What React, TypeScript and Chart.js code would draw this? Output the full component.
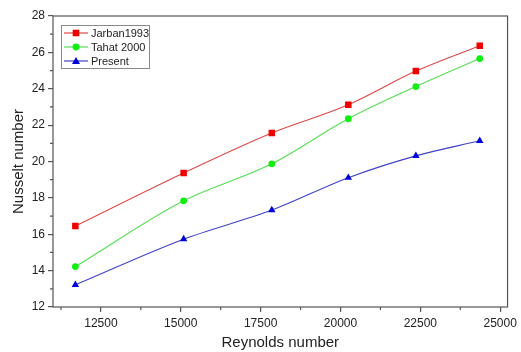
import React, { useEffect, useRef } from "react";
import { Chart, registerables } from "chart.js";

Chart.register(...registerables);

const reynolds = [11700, 15090, 17850, 20245, 22360, 24360];
const jarban = [16.45, 19.37, 21.57, 23.12, 24.97, 26.37];
const tahat = [14.22, 17.84, 19.87, 22.35, 24.12, 25.66];
const present = [13.22, 15.73, 17.33, 19.11, 20.31, 21.14];
const xMajorTicks = [12500, 15000, 17500, 20000, 22500, 25000];
const xMinorTicks = [11250, 13750, 16250, 18750, 21250, 23750];
const yMajorTicks = [12, 14, 16, 18, 20, 22, 24, 26, 28];
const yMinorTicks = [13, 15, 17, 19, 21, 23, 25, 27];

const FONT = "'Liberation Sans', Arial, sans-serif";

const framePlugin = {
  id: "frame",
  afterDraw(chart: any) {
    const { ctx, chartArea } = chart;
    const { left, right, top, bottom } = chartArea;
    const xs = chart.scales.x;
    const ys = chart.scales.y;
    ctx.save();
    ctx.strokeStyle = "#555";
    ctx.lineWidth = 1.2;
    ctx.strokeRect(left, top, right - left, bottom - top);
    ctx.beginPath();
    xMinorTicks.forEach((v) => {
      const px = xs.getPixelForValue(v);
      ctx.moveTo(px, bottom);
      ctx.lineTo(px, bottom + 3);
    });
    yMinorTicks.forEach((v) => {
      const py = ys.getPixelForValue(v);
      ctx.moveTo(left, py);
      ctx.lineTo(left - 3, py);
    });
    ctx.stroke();

    // legend
    const bx = 61, by = 25, bw = 88, bh = 43;
    ctx.fillStyle = "#fff";
    ctx.fillRect(bx, by, bw, bh);
    ctx.strokeStyle = "#888";
    ctx.lineWidth = 1;
    ctx.strokeRect(bx + 0.5, by + 0.5, bw, bh);
    chart.data.datasets.forEach((ds: any, i: number) => {
      const y = by + 8 + i * 14;
      ctx.strokeStyle = ds.borderColor;
      ctx.lineWidth = 1.2;
      ctx.beginPath();
      ctx.moveTo(bx + 3, y);
      ctx.lineTo(bx + 27, y);
      ctx.stroke();
      ctx.fillStyle = ds.pointBackgroundColor;
      const cx = bx + 15;
      ctx.beginPath();
      if (ds.pointStyle === "rect") {
        ctx.rect(cx - 3.3, y - 3.3, 6.6, 6.6);
      } else if (ds.pointStyle === "circle") {
        ctx.arc(cx, y, 3.4, 0, Math.PI * 2);
      } else {
        ctx.moveTo(cx, y - 4);
        ctx.lineTo(cx + 4, y + 3);
        ctx.lineTo(cx - 4, y + 3);
        ctx.closePath();
      }
      ctx.fill();
      ctx.fillStyle = "#222";
      ctx.font = `11px ${FONT}`;
      ctx.textBaseline = "middle";
      ctx.textAlign = "left";
      ctx.fillText(ds.label, bx + 30, y + 0.5);
    });
    ctx.restore();
  },
};

export default function App() {
  const ref = useRef<HTMLCanvasElement>(null);
  useEffect(() => {
    if (!ref.current) return;
    const mk = (label: string, data: number[], line: string, pt: string, style: string, r: number) => ({
      label,
      data: reynolds.map((x, i) => ({ x, y: data[i] })),
      borderColor: line,
      backgroundColor: pt,
      pointBackgroundColor: pt,
      pointBorderColor: pt,
      pointBorderWidth: 0,
      pointStyle: style,
      pointRadius: r,
      borderWidth: 1.1,
      tension: 0.3,
      cubicInterpolationMode: "monotone",
    });
    const chart = new Chart(ref.current, {
      type: "line",
      data: {
        datasets: [
          mk("Jarban1993", jarban, "#dd4848", "#f00000", "rect", 4.6),
          mk("Tahat 2000", tahat, "#55dd55", "#10ee10", "circle", 3.4),
          mk("Present", present, "#4040c8", "#0000d8", "triangle", 4.3),
        ] as any,
      },
      options: {
        animation: false,
        responsive: false,
        devicePixelRatio: 1,
        layout: { padding: { top: 16, right: 7, left: 0, bottom: 0 } },
        plugins: { legend: { display: false }, tooltip: { enabled: false } },
        scales: {
          x: {
            type: "linear",
            min: 11000,
            max: 25230,
            afterBuildTicks: (s: any) => {
              s.ticks = xMajorTicks.map((v) => ({ value: v }));
            },
            afterFit: (s: any) => {
              s.height = 45;
            },
            grid: { display: true, drawOnChartArea: false, drawTicks: true, tickLength: 5, color: "#555", lineWidth: 1.2 },
            border: { display: false },
            ticks: {
              font: { family: FONT, size: 12 },
              color: "#222",
              padding: 4,
              maxRotation: 0,
              autoSkip: false,
              callback: (v: any) => String(v),
            },
            title: {
              display: true,
              text: "Reynolds number",
              font: { family: FONT, size: 15 },
              color: "#222",
              padding: { top: 2, bottom: 0 },
            },
          },
          y: {
            type: "linear",
            min: 12,
            max: 28,
            afterBuildTicks: (s: any) => {
              s.ticks = yMajorTicks.map((v) => ({ value: v }));
            },
            afterFit: (s: any) => {
              s.width = 53;
            },
            grid: { display: true, drawOnChartArea: false, drawTicks: true, tickLength: 5, color: "#555", lineWidth: 1.2 },
            border: { display: false },
            ticks: {
              font: { family: FONT, size: 12 },
              color: "#222",
              padding: 3,
              autoSkip: false,
            },
            title: {
              display: true,
              text: "Nusselt number",
              font: { family: FONT, size: 15 },
              color: "#222",
              padding: { top: 10, bottom: 0 },
            },
          },
        },
      },
      plugins: [framePlugin],
    });
    return () => chart.destroy();
  }, []);
  return (
    <div style={{ position: "fixed", left: 0, top: 0, width: 521, height: 352, background: "#fff" }}>
      <canvas ref={ref} width={521} height={352} style={{ width: 521, height: 352 }} />
    </div>
  );
}
